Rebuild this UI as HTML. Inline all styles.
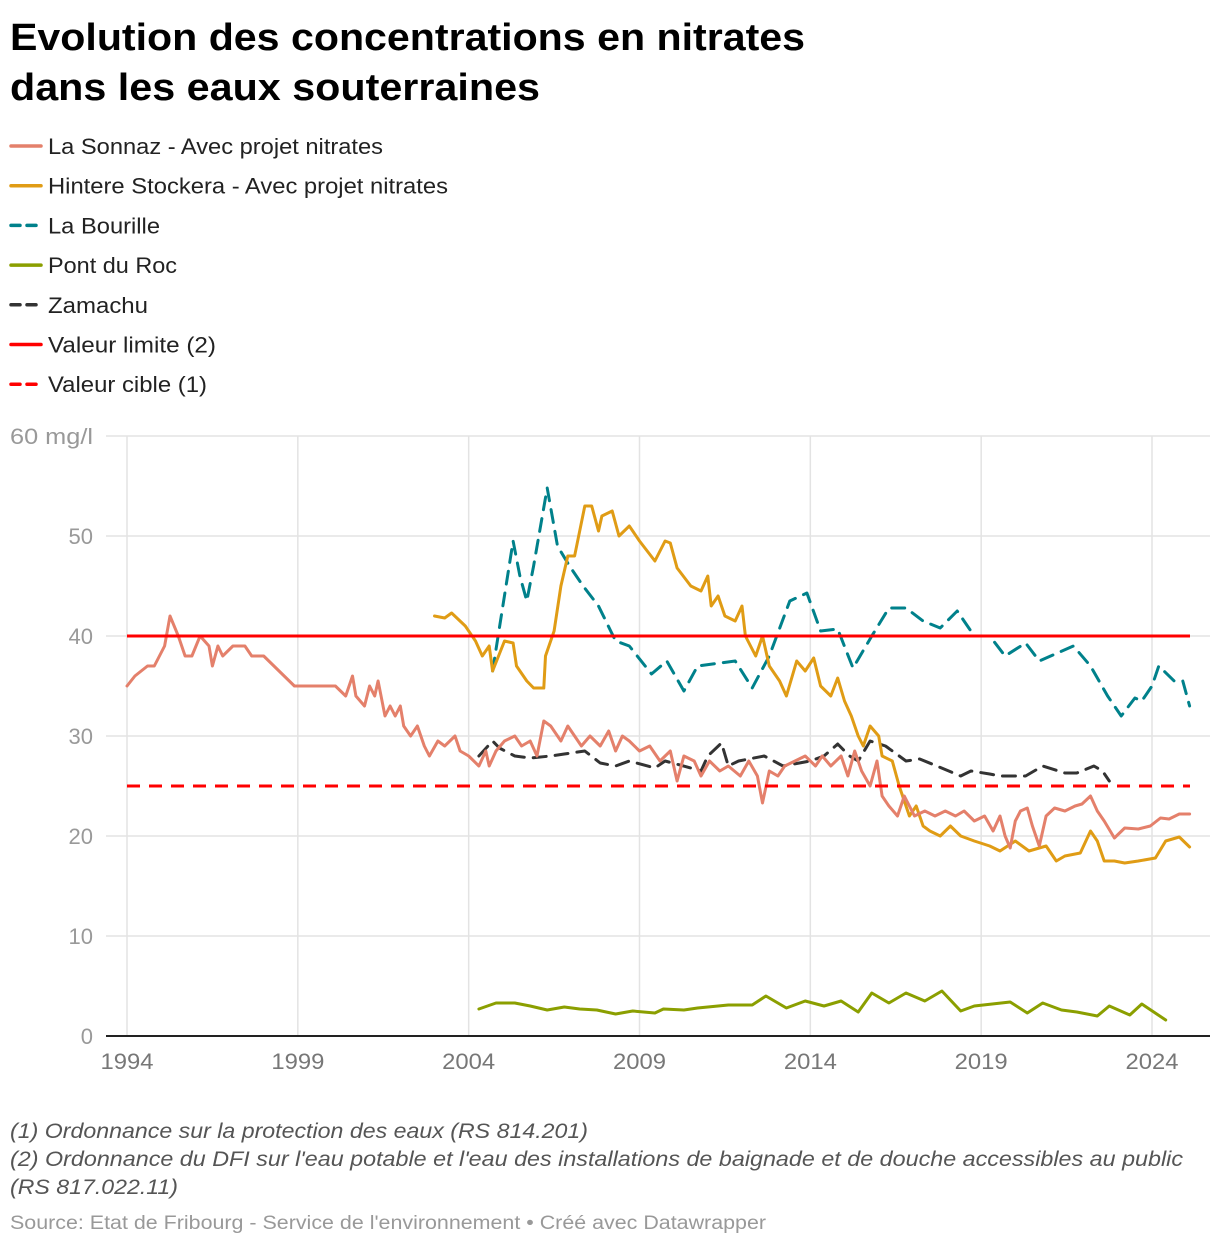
<!DOCTYPE html>
<html><head><meta charset="utf-8">
<style>
html,body{margin:0;padding:0;background:#fff;}
svg{display:block;font-family:"Liberation Sans",sans-serif;}
</style></head>
<body>
<svg id="chart" width="1220" height="1246" viewBox="0 0 1220 1246">
<text x="10" y="50" font-size="38" font-weight="bold" fill="#000" textLength="795" lengthAdjust="spacingAndGlyphs">Evolution des concentrations en nitrates</text>
<text x="10" y="100" font-size="38" font-weight="bold" fill="#000" textLength="530" lengthAdjust="spacingAndGlyphs">dans les eaux souterraines</text>
<g id="legend"></g>
<g id="grid"></g>
<g id="series"></g>
<text x="10" y="1138" font-size="21" font-style="italic" fill="#555" textLength="578" lengthAdjust="spacingAndGlyphs">(1) Ordonnance sur la protection des eaux (RS 814.201)</text>
<text x="10" y="1166" font-size="21" font-style="italic" fill="#555" textLength="1173" lengthAdjust="spacingAndGlyphs">(2) Ordonnance du DFI sur l'eau potable et l'eau des installations de baignade et de douche accessibles au public</text>
<text x="10" y="1194" font-size="21" font-style="italic" fill="#555" textLength="168" lengthAdjust="spacingAndGlyphs">(RS 817.022.11)</text>
<text x="10" y="1229" font-size="19" fill="#999" textLength="756" lengthAdjust="spacingAndGlyphs">Source: Etat de Fribourg - Service de l'environnement • Créé avec Datawrapper</text>
</svg>
<script>
const xTicks=[1994,1999,2004,2009,2014,2019,2024];
const yTicks=[0,10,20,30,40,50,60];
const limitValue=40;
const targetValue=25;
const sonnazX=[1994,1994.23,1994.6,1994.8,1995.1,1995.26,1995.5,1995.7,1995.9,1996.14,1996.4,1996.5,1996.66,1996.8,1997.1,1997.45,1997.65,1998.0,1998.9,2000.1,2000.4,2000.6,2000.7,2000.95,2001.1,2001.25,2001.35,2001.55,2001.7,2001.85,2002.0,2002.1,2002.3,2002.5,2002.7,2002.85,2003.1,2003.3,2003.6,2003.75,2004.0,2004.3,2004.5,2004.6,2004.8,2005.05,2005.35,2005.55,2005.8,2006.0,2006.2,2006.4,2006.7,2006.9,2007.1,2007.3,2007.55,2007.85,2008.1,2008.3,2008.5,2008.7,2009.0,2009.3,2009.6,2009.9,2010.1,2010.3,2010.6,2010.8,2011.05,2011.35,2011.6,2011.95,2012.2,2012.45,2012.6,2012.8,2013.05,2013.25,2013.55,2013.85,2014.15,2014.35,2014.6,2014.9,2015.1,2015.3,2015.5,2015.75,2015.95,2016.1,2016.3,2016.55,2016.75,2017.05,2017.35,2017.65,2017.95,2018.25,2018.5,2018.8,2019.1,2019.35,2019.55,2019.7,2019.85,2020.0,2020.15,2020.35,2020.5,2020.7,2020.9,2021.15,2021.45,2021.75,2021.95,2022.2,2022.4,2022.6,2022.9,2023.2,2023.6,2023.95,2024.25,2024.5,2024.8,2025.1];
const sonnazY=[35,36,37,37,39,42,40,38,38,40,39,37,39,38,39,39,38,38,35,35,34,36,34,33,35,34,35.5,32,33,32,33,31,30,31,29,28,29.5,29,30,28.5,28,27,28.5,27,28.5,29.5,30,29,29.5,28,31.5,31,29.5,31,30,29,30,29,30.5,28.5,30,29.5,28.5,29,27.5,28.5,25.5,28,27.5,26,27.5,26.5,27,26,27.5,26,23.3,26.5,26,27,27.5,28,27,28,27,28,26,28.5,26.5,25,27.5,24,23,22,24,22,22.5,22,22.5,22,22.5,21.5,22,20.5,22,20,18.8,21.5,22.5,22.8,21,19,22,22.8,22.5,23,23.2,24,22.5,21.5,19.8,20.8,20.7,21,21.8,21.7,22.2,22.2];
const stockX=[2003.0,2003.3,2003.5,2003.9,2004.2,2004.4,2004.6,2004.7,2005.05,2005.3,2005.4,2005.7,2005.9,2006.2,2006.25,2006.5,2006.7,2006.9,2007.1,2007.4,2007.6,2007.8,2007.9,2008.2,2008.4,2008.7,2009.0,2009.45,2009.75,2009.9,2010.1,2010.5,2010.8,2011.0,2011.1,2011.3,2011.5,2011.8,2012.0,2012.1,2012.4,2012.6,2012.8,2013.1,2013.3,2013.6,2013.85,2014.1,2014.3,2014.6,2014.8,2015.0,2015.2,2015.4,2015.55,2015.75,2016.0,2016.1,2016.4,2016.6,2016.9,2017.1,2017.3,2017.5,2017.8,2018.1,2018.4,2018.8,2019.25,2019.55,2020.0,2020.4,2020.9,2021.2,2021.45,2021.9,2022.2,2022.4,2022.6,2022.9,2023.2,2023.6,2024.1,2024.4,2024.8,2025.1];
const stockY=[42,41.8,42.3,41,39.5,38,39,36.5,39.5,39.3,37,35.5,34.8,34.8,38,40.5,45,48,48,53,53,50.5,52,52.5,50,51,49.5,47.5,49.5,49.3,46.8,45,44.5,46,43,44,42,41.5,43,40,38,40,37,35.5,34,37.5,36.5,37.8,35,34,35.8,33.5,32,30,29,31,30,28,27.5,25,22,23,21,20.5,20,21,20,19.5,19,18.5,19.5,18.5,19,17.5,18,18.3,20.5,19.5,17.5,17.5,17.3,17.5,17.8,19.5,19.9,18.9];
const bourX=[2004.7,2005.3,2005.5,2005.7,2005.9,2006.3,2006.6,2006.95,2007.35,2007.8,2008.3,2008.7,2009.35,2009.8,2010.3,2010.7,2011.8,2012.3,2012.8,2013.4,2013.9,2014.3,2014.8,2015.25,2015.8,2016.3,2016.8,2017.3,2017.8,2018.3,2018.8,2019.25,2019.7,2020.3,2020.7,2021.7,2022.2,2022.7,2023.1,2023.5,2023.7,2024.0,2024.2,2024.65,2024.9,2025.1];
const bourY=[36.5,49.5,46,43.5,47,54.8,49,47,45,43,39.5,39,36.2,37.5,34.5,37,37.5,34.8,38,43.5,44.3,40.5,40.7,36.8,40,42.8,42.8,41.5,40.8,42.5,40,40,38,39.3,37.5,39,37,34,32,33.8,33.5,35,37,35.5,35.5,33];
const rocX=[2004.3,2004.8,2005.35,2005.8,2006.3,2006.8,2007.25,2007.75,2008.3,2008.8,2009.45,2009.7,2010.3,2010.7,2011.6,2012.3,2012.7,2013.3,2013.85,2014.4,2014.9,2015.4,2015.8,2016.3,2016.8,2017.35,2017.85,2018.4,2018.8,2019.85,2020.35,2020.8,2021.35,2021.8,2022.4,2022.75,2023.35,2023.7,2024.4];
const rocY=[2.7,3.3,3.3,3,2.6,2.9,2.7,2.6,2.2,2.5,2.3,2.7,2.6,2.8,3.1,3.1,4,2.8,3.5,3,3.5,2.4,4.3,3.3,4.3,3.5,4.5,2.5,3,3.4,2.3,3.3,2.6,2.4,2,3,2.1,3.2,1.6];
const zamX=[2004.3,2004.7,2004.9,2005.35,2005.8,2006.4,2006.8,2007.4,2007.85,2008.3,2008.7,2009.45,2009.75,2010.5,2010.8,2011.0,2011.4,2011.6,2011.9,2012.65,2013.2,2014.0,2014.4,2014.8,2015.15,2015.4,2015.75,2016.2,2016.6,2016.8,2017.2,2017.7,2018.4,2018.7,2019.25,2019.55,2020.3,2020.8,2021.45,2021.8,2022.3,2022.55,2022.75];
const zamY=[28,29.5,28.8,28,27.8,28,28.2,28.5,27.3,27,27.5,26.8,27.5,26.8,26.5,28,29.3,27,27.5,28,27,27.5,28,29.2,28,27.5,29.5,29,28,27.5,27.7,27,26,26.5,26.2,26,26,27,26.3,26.3,27,26.5,25.5];

const NS='http://www.w3.org/2000/svg';
const X0=127,PX_PER_YEAR=(1152-127)/30,Y0=1036,PX_PER_UNIT=10;
function xs(y){return X0+(y-1994)*PX_PER_YEAR;}
function ys(v){return Y0-v*PX_PER_UNIT;}
function mk(tag,attrs,parent){const e=document.createElementNS(NS,tag);for(const k in attrs)e.setAttribute(k,attrs[k]);parent.appendChild(e);return e;}

const grid=document.getElementById('grid');
xTicks.forEach(t=>{
  const l=mk('line',{x1:xs(t),x2:xs(t),y1:ys(60),y2:ys(0),stroke:'#e3e3e3','stroke-width':1.5},grid);
  
  
  const tx=mk('text',{x:xs(t),y:Y0+33,'font-size':22,fill:'#777','text-anchor':'middle',textLength:53,lengthAdjust:'spacingAndGlyphs'},grid);
  tx.textContent=String(t);
  
  
});
yTicks.forEach(t=>{
  const l=mk('line',{x1:106,x2:1210,y1:ys(t),y2:ys(t),stroke:t===0?'#222':'#e3e3e3','stroke-width':t===0?2:1.5},grid);
  
  
  const tx=mk('text',{x:93,y:ys(t)+8,'font-size':22,fill:'#999','text-anchor':'end'},grid);
  tx.textContent=t===60?'60 mg/l':String(t);
  if(t===60){tx.setAttribute('textLength','83');tx.setAttribute('lengthAdjust','spacingAndGlyphs');}
  
  
});

const ser=document.getElementById('series');
function line(xa,ya,color,dash,name,w){
  const d=xa.map((x,i)=>(i?'L':'M')+xs(x).toFixed(1)+','+ys(ya[i]).toFixed(1)).join('');
  const p=mk('path',{d:d,fill:'none',stroke:color,'stroke-width':w||3,'stroke-linejoin':'round','stroke-linecap':'round'},ser);
  if(dash)p.setAttribute('stroke-dasharray',dash);
  
  
}
line(rocX,rocY,'#8b9f00',null,'line-pont-du-roc');
line(zamX,zamY,'#333','13 9','line-zamachu');
line(bourX,bourY,'#00818b','13 9','line-la-bourille');
line(stockX,stockY,'#e09c15',null,'line-hintere-stockera');
line(sonnazX,sonnazY,'#e4806b',null,'line-la-sonnaz');
const lim=mk('line',{x1:xs(1994),x2:1190,y1:ys(limitValue),y2:ys(limitValue),stroke:'#f00','stroke-width':3},ser);


const tgt=mk('line',{x1:xs(1994),x2:1190,y1:ys(targetValue),y2:ys(targetValue),stroke:'#f00','stroke-width':3,'stroke-dasharray':'13 9'},ser);



const legendLabels=['La Sonnaz - Avec projet nitrates','Hintere Stockera - Avec projet nitrates','La Bourille','Pont du Roc','Zamachu','Valeur limite (2)','Valeur cible (1)'];
const legendColors=['#e4806b','#e09c15','#00818b','#8b9f00','#333','#f00','#f00'];
const legendDash=[null,null,'9 7',null,'9 7',null,'9 7'];
const legendWidths=[335,400,112,129,100,168,159];
const lg=document.getElementById('legend');
legendLabels.forEach((lab,i)=>{
  const y=146+i*39.7;
  const g=mk('g',{},lg);
  
  
  const l=mk('line',{x1:11,x2:41,y1:y,y2:y,stroke:legendColors[i],'stroke-width':3.5,'stroke-linecap':'round'},g);
  if(legendDash[i])l.setAttribute('stroke-dasharray',legendDash[i]);
  const t=mk('text',{x:48,y:y+8,'font-size':22,fill:'#222',textLength:legendWidths[i],lengthAdjust:'spacingAndGlyphs'},g);
  t.textContent=lab;
});
</script>
</body></html>
